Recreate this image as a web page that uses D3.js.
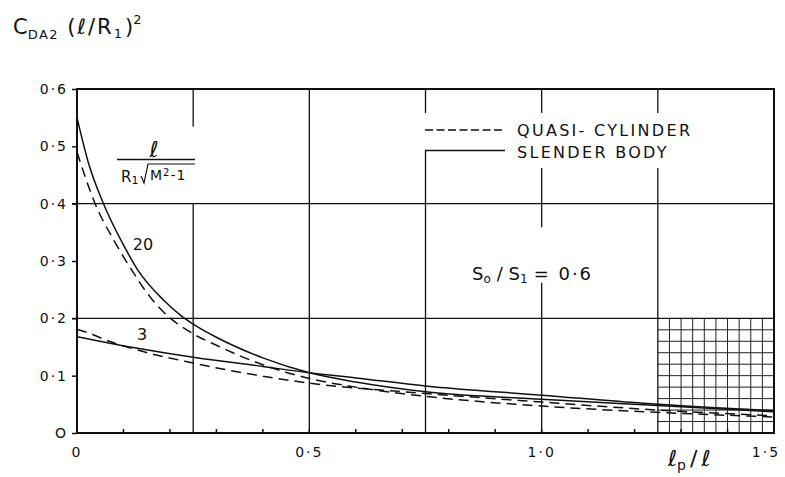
<!DOCTYPE html>
<html>
<head>
<meta charset="utf-8">
<title>C_DA2 chart</title>
<style>
  body { margin: 0; background: #fff; }
  svg { display: block; }
  text { font-family: "DejaVu Sans", sans-serif; fill: #111; }
</style>
</head>
<body>
<svg id="svg" width="785" height="477"></svg>
<script src="https://d3js.org/d3.v7.min.js"></script>
<script>
    // curves: [lp/l, C_DA2 (l/R1)^2]
    const slender20 = [[0,0.55],[0.025,0.47],[0.057,0.40],[0.1,0.328],[0.131,0.284],[0.186,0.232],[0.225,0.204],[0.25,0.190],[0.3,0.167],[0.4,0.131],[0.5,0.105],[0.6,0.089],[0.75,0.072],[1.0,0.059],[1.25,0.048],[1.5,0.037]];
    const quasi20 = [[0,0.49],[0.039,0.40],[0.08,0.335],[0.118,0.284],[0.15,0.245],[0.185,0.212],[0.25,0.173],[0.3,0.153],[0.4,0.119],[0.5,0.095],[0.6,0.08],[0.75,0.064],[1.0,0.047],[1.25,0.036],[1.5,0.028]];
    const slender3 = [[0,0.168],[0.121,0.149],[0.25,0.132],[0.4,0.116],[0.5,0.105],[0.6,0.096],[0.75,0.082],[1.0,0.066],[1.25,0.050],[1.5,0.039]];
    const quasi3 = [[0,0.181],[0.036,0.171],[0.056,0.164],[0.12,0.147],[0.25,0.122],[0.4,0.099],[0.5,0.087],[0.75,0.069],[1.0,0.054],[1.25,0.040],[1.5,0.030]];

    const yTicks = [0, 0.1, 0.2, 0.3, 0.4, 0.5, 0.6];
    const yTickLabels = ["O", "0·1", "0·2", "0·3", "0·4", "0·5", "0·6"];
    const xTickLabels = [[0, "0"], [0.5, "0·5"], [1.0, "1·0"], [1.5, "1·5"]];
    const xMinor = d3.range(1, 15).map(function(i) { return i / 10; });
    const hGrid = [0.2, 0.4];
    // vertical grid lines, with the stretches left blank for the lettering
    const vGrid = [
        {x: 0.25, gaps: [[0.4, 0.534]]},
        {x: 0.5, gaps: []},
        {x: 0.75, gaps: [[0.494, 0.558]]},
        {x: 1.0, gaps: [[0.462, 0.558], [0.262, 0.359]]},
        {x: 1.25, gaps: [[0.462, 0.558]]}
    ];
    const fineX = d3.range(1, 10).map(function(i) { return 1.25 + i * 0.025; });
    const fineY = d3.range(1, 10).map(function(i) { return i * 0.02; });

    const svg = d3.select("#svg");
    const x = d3.scaleLinear([0, 1.5], [77, 774]);
    const y = d3.scaleLinear([0, 0.6], [433, 89]);

    // fine graph-paper patch in the lower right
    const fine = svg.append("g").attr("stroke", "#222").attr("stroke-width", 1);
    fine.selectAll("line.fx").data(fineX).enter().append("line")
        .attr("x1", d => x(d)).attr("x2", d => x(d))
        .attr("y1", y(0)).attr("y2", y(0.2));
    fine.selectAll("line.fy").data(fineY).enter().append("line")
        .attr("x1", x(1.25)).attr("x2", x(1.5))
        .attr("y1", d => y(d)).attr("y2", d => y(d));

    // main grid
    const grid = svg.append("g").attr("stroke", "#111").attr("stroke-width", 1.3);
    grid.selectAll("line.h").data(hGrid).enter().append("line")
        .attr("x1", x(0) - 5).attr("x2", x(1.5))
        .attr("y1", d => y(d)).attr("y2", d => y(d));
    vGrid.forEach(function(g) {
        let segs = [], lo = 0;
        g.gaps.slice().sort((a, b) => a[0] - b[0]).forEach(function(gap) {
            segs.push([lo, gap[0]]); lo = gap[1];
        });
        segs.push([lo, 0.6]);
        grid.selectAll(null).data(segs).enter().append("line")
            .attr("x1", x(g.x)).attr("x2", x(g.x))
            .attr("y1", d => y(d[0])).attr("y2", d => y(d[1]));
    });

    // frame
    svg.append("rect")
        .attr("x", x(0)).attr("y", y(0.6))
        .attr("width", x(1.5) - x(0)).attr("height", y(0) - y(0.6))
        .attr("fill", "none").attr("stroke", "#111").attr("stroke-width", 2);

    // axes ticks
    const yAxis = d3.axisLeft(y).tickValues(yTicks).tickSize(5).tickFormat((d, i) => yTickLabels[i]);
    const ya = svg.append("g").attr("transform", "translate(" + x(0) + ",0)").call(yAxis);
    ya.select(".domain").remove();
    ya.selectAll("line").attr("stroke", "#111").attr("stroke-width", 1.5);
    ya.selectAll("text").attr("x", -9).style("font-size", "14px").style("letter-spacing", "2px")
        .style("font-family", "'DejaVu Sans', sans-serif");

    svg.append("g").selectAll("line").data(xMinor).enter().append("line")
        .attr("x1", d => x(d)).attr("x2", d => x(d))
        .attr("y1", y(0)).attr("y2", y(0) - 4)
        .attr("stroke", "#111").attr("stroke-width", 1.5);

    svg.append("g").selectAll("text").data(xTickLabels).enter().append("text")
        .attr("x", d => d[0] === 1.5 ? x(d[0]) - 8 : x(d[0]))
        .attr("y", 457)
        .attr("text-anchor", "middle")
        .style("font-size", "14px").style("letter-spacing", "2px")
        .text(d => d[1]);

    // curves
    const line = d3.line().x(d => x(d[0])).y(d => y(d[1])).curve(d3.curveMonotoneX);
    const curves = [
        {data: slender20, dash: null},
        {data: slender3, dash: null},
        {data: quasi20, dash: "10,6"},
        {data: quasi3, dash: "10,6"}
    ];
    svg.append("g").selectAll("path").data(curves).enter().append("path")
        .attr("d", d => line(d.data))
        .attr("fill", "none").attr("stroke", "#111").attr("stroke-width", 1.5)
        .attr("stroke-dasharray", d => d.dash);

    // legend
    svg.append("line").attr("x1", 425).attr("x2", 502).attr("y1", 130).attr("y2", 130)
        .attr("stroke", "#111").attr("stroke-width", 1.5).attr("stroke-dasharray", "8,3.5");
    svg.append("line").attr("x1", x(0.75)).attr("x2", 505).attr("y1", 150.5).attr("y2", 150.5)
        .attr("stroke", "#111").attr("stroke-width", 1.5);
    svg.append("text").attr("x", 517).attr("y", 136).style("font-size", "16px").style("letter-spacing", "2.3px")
        .text("QUASI- CYLINDER");
    svg.append("text").attr("x", 517).attr("y", 158).style("font-size", "16px").style("letter-spacing", "2.3px")
        .text("SLENDER BODY");

    // y title
    const t = svg.append("text").attr("x", 13).attr("y", 34).style("font-size", "21px");
    t.append("tspan").text("C");
    t.append("tspan").attr("dy", 5).style("font-size", "13px").style("letter-spacing", "1.5px").text("DA2");
    t.append("tspan").attr("dx", 8).attr("dy", -5).style("letter-spacing", "2px").text("(");
    t.append("tspan").style("font-style", "italic").style("letter-spacing", "2px").text("ℓ");
    t.append("tspan").style("letter-spacing", "2px").text("/R");
    t.append("tspan").attr("dy", 4).style("font-size", "13px").text("1");
    t.append("tspan").attr("dy", -4).attr("dx", 3).text(")");
    t.append("tspan").attr("dy", -10).style("font-size", "13px").text("2");

    // x title
    const xt = svg.append("text").attr("x", 668).attr("y", 466).style("font-size", "22px");
    xt.append("tspan").style("font-style", "italic").text("ℓ");
    xt.append("tspan").attr("dy", 4).style("font-size", "14px").text("p");
    xt.append("tspan").attr("dy", -4).attr("dx", 4).text("/");
    xt.append("tspan").attr("dx", 4).style("font-style", "italic").text("ℓ");

    // parameter label  l / (R1 sqrt(M^2-1))
    svg.append("text").attr("x", 154).attr("y", 157).attr("text-anchor", "middle")
        .style("font-size", "22px").style("font-style", "italic").text("ℓ");
    svg.append("line").attr("x1", 117).attr("x2", 195).attr("y1", 159.5).attr("y2", 159.5)
        .attr("stroke", "#111").attr("stroke-width", 1.3);
    const den = svg.append("text").attr("x", 121).attr("y", 182).style("font-size", "15px");
    den.append("tspan").text("R");
    den.append("tspan").attr("dy", 2).style("font-size", "11px").text("1");
    svg.append("path").attr("d", "M141,176 L144,183 L148,164 L195,164")
        .attr("fill", "none").attr("stroke", "#111").attr("stroke-width", 1.2);
    const rad = svg.append("text").attr("x", 150).attr("y", 180).style("font-size", "14px").style("letter-spacing", "1px");
    rad.append("tspan").text("M");
    rad.append("tspan").attr("dy", -4).style("font-size", "10px").text("2");
    rad.append("tspan").attr("dy", 4).text("-1");

    svg.append("text").attr("x", 143).attr("y", 250).attr("text-anchor", "middle")
        .style("font-size", "16px").text("20");
    svg.append("text").attr("x", 142).attr("y", 340).attr("text-anchor", "middle")
        .style("font-size", "16px").text("3");

    const s = svg.append("text").attr("x", 472).attr("y", 280).style("font-size", "18px");
    s.append("tspan").text("S");
    s.append("tspan").attr("dy", 3).style("font-size", "12px").text("o");
    s.append("tspan").attr("dy", -3).attr("dx", 6).text("/ S");
    s.append("tspan").attr("dy", 3).style("font-size", "12px").text("1");
    s.append("tspan").attr("dy", -3).attr("dx", 6).style("letter-spacing", "2px").text("= 0·6");
</script>
</body>
</html>
